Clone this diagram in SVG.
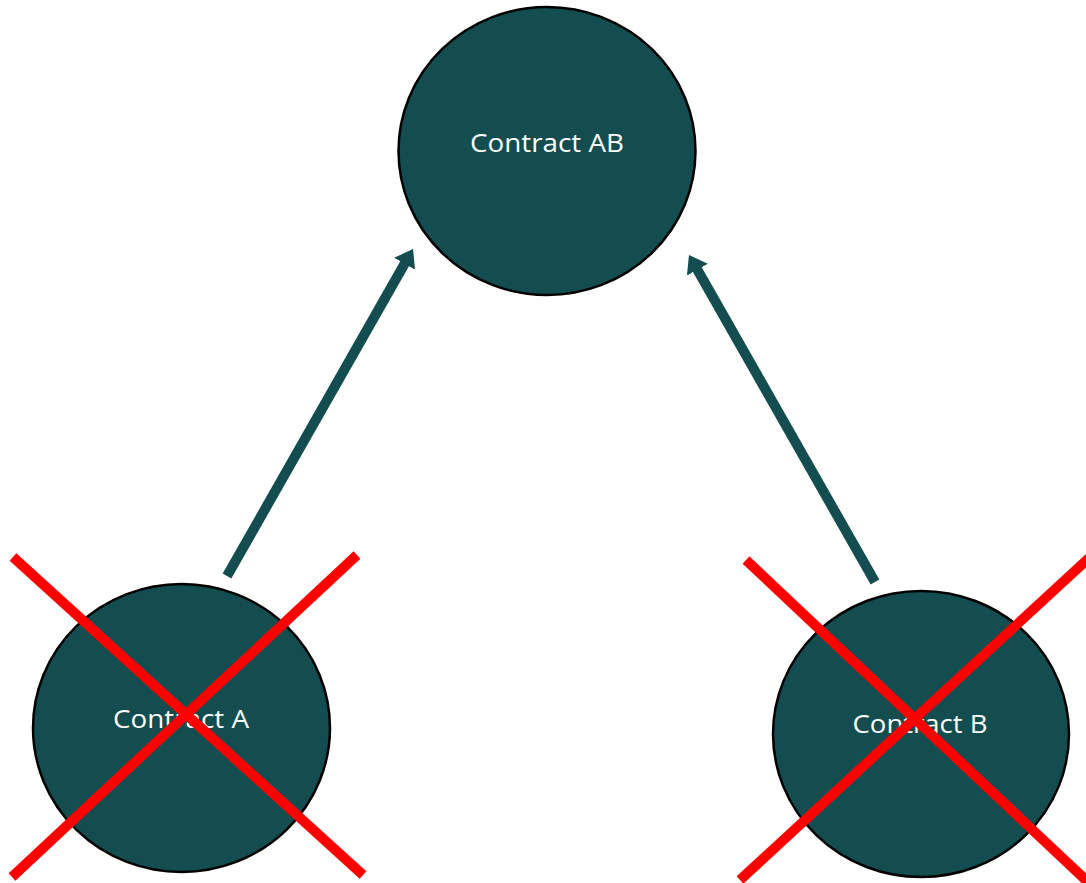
<svg xmlns="http://www.w3.org/2000/svg" width="1086" height="883" viewBox="0 0 1086 883">
  <style>
    .node { fill: #134D4F; stroke: #000000; stroke-width: 2.5; }
    .label { fill: #FFFFFF; font-family: "Open Sans", "Noto Sans", "Liberation Sans", sans-serif; font-size: 26px; text-anchor: middle; }
    .conn { stroke: #134D4F; stroke-width: 10; fill: none; marker-end: url(#arrow); }
    .cross { stroke: #FF0000; stroke-width: 10; fill: none; }
  </style>
  <defs>
    <marker id="arrow" markerUnits="userSpaceOnUse" viewBox="0 -12 17 24" refX="2" refY="0" markerWidth="17" markerHeight="24" orient="auto">
      <path d="M0,-12 L17,0 L0,12 Z" fill="#134D4F"/>
    </marker>
  </defs>
  <rect width="1086" height="883" fill="#FFFFFF"/>
  <g id="connectors">
    <line class="conn" x1="227" y1="576" x2="405.6" y2="262"/>
    <line class="conn" x1="875" y1="582" x2="696.4" y2="268"/>
  </g>
  <g id="node-ab">
    <ellipse class="node" cx="547" cy="151" rx="148.5" ry="144"/>
    <text class="label" x="547" y="152" textLength="154" lengthAdjust="spacingAndGlyphs">Contract AB</text>
  </g>
  <g id="node-a">
    <ellipse class="node" cx="181.5" cy="728" rx="148.5" ry="144"/>
    <text class="label" x="181" y="728" textLength="136" lengthAdjust="spacingAndGlyphs">Contract A</text>
    <g id="cross-a">
      <line class="cross" x1="13" y1="557" x2="363" y2="875"/>
      <line class="cross" x1="357" y1="555" x2="12" y2="877"/>
    </g>
  </g>
  <g id="node-b">
    <ellipse class="node" cx="921" cy="734" rx="148" ry="143"/>
    <text class="label" x="920" y="733" textLength="135" lengthAdjust="spacingAndGlyphs">Contract B</text>
    <g id="cross-b">
      <line class="cross" x1="746" y1="560" x2="1090" y2="884"/>
      <line class="cross" x1="740" y1="880" x2="1090" y2="557"/>
    </g>
  </g>
</svg>
